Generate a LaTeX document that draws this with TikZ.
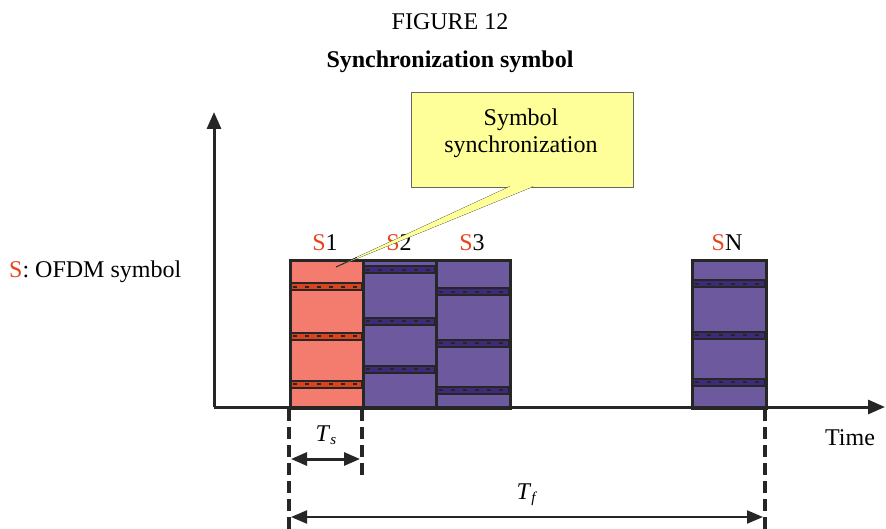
\documentclass[tikz,border=0pt]{standalone}
\usepackage{fontspec}
\setmainfont{Liberation Serif}
\usetikzlibrary{arrows.meta,calc}
\definecolor{salmon}{HTML}{F47C6E}
\definecolor{purp}{HTML}{6D5A9E}
\definecolor{dpurp}{HTML}{3E2A78}
\definecolor{dorange}{HTML}{D9431E}
\definecolor{sred}{HTML}{E8441C}
\definecolor{ink}{HTML}{262626}
\definecolor{callout}{HTML}{FFFF99}
\newcommand{\mystripe}[4]{%
  \fill[ink] (#1,#3-4.5) rectangle (#2,#3+4.5);
  \fill[#4] (#1+1.5,#3-2.5) rectangle (#2-1.5,#3+2.5);
  \draw[ink,line width=1.2pt,dash pattern=on 4pt off 8pt] (#1+4,#3) -- (#2-2,#3);
}
\tikzset{
  lbl/.style={font=\fontsize{24}{28}\selectfont, inner sep=0pt},
  symbox/.style={draw=ink, line width=3pt},
  axis/.style={draw=ink, line width=3pt, -{Triangle[length=17pt,width=14pt]}},
  dline/.style={draw=ink, line width=4pt, dash pattern=on 12pt off 6pt},
  dim/.style={draw=ink, {Triangle[length=16pt,width=13pt]}-{Triangle[length=16pt,width=13pt]}}
}
\begin{document}
\begin{tikzpicture}[x=1pt,y=-1pt]
\useasboundingbox (0,0) rectangle (886,529);
% titles
\node[lbl, anchor=base] (fig) at (450,30) {FIGURE 12};
\node[lbl, anchor=base, font=\fontsize{24}{28}\selectfont\bfseries] (title) at (450,68) {Synchronization symbol};
% symbol boxes
\fill[salmon] (289,259) rectangle (362,407);
\fill[purp] (362,259) rectangle (435,407);
\fill[purp] (435,259) rectangle (509,407);
\fill[purp] (691,259) rectangle (765,407);
\mystripe{289}{362}{287}{dorange}
\mystripe{289}{362}{336}{dorange}
\mystripe{289}{362}{384}{dorange}
\mystripe{362}{435}{270}{dpurp}
\mystripe{362}{435}{321}{dpurp}
\mystripe{362}{435}{369}{dpurp}
\mystripe{435}{509}{292}{dpurp}
\mystripe{435}{509}{343}{dpurp}
\mystripe{435}{509}{390}{dpurp}
\mystripe{691}{765}{284}{dpurp}
\mystripe{691}{765}{335}{dpurp}
\mystripe{691}{765}{382}{dpurp}
\node[symbox, minimum width=73pt, minimum height=148pt, anchor=north west, inner sep=0pt] (s1) at (289,259) {};
\node[symbox, minimum width=73pt, minimum height=148pt, anchor=north west, inner sep=0pt] (s2) at (362,259) {};
\node[symbox, minimum width=74pt, minimum height=148pt, anchor=north west, inner sep=0pt] (s3) at (435,259) {};
\node[symbox, minimum width=74pt, minimum height=148pt, anchor=north west, inner sep=0pt] (sn) at (691,259) {};
% labels above
\node[lbl, anchor=base] (l1) at (325,251) {\textcolor{sred}{S}1};
\node[lbl, anchor=base] (l2) at (399,251) {\textcolor{sred}{S}2};
\node[lbl, anchor=base] (l3) at (472,251) {\textcolor{sred}{S}3};
\node[lbl, anchor=base] (ln) at (727,251) {\textcolor{sred}{S}N};
\node[lbl, anchor=base west] (legend) at (9,278) {\textcolor{sred}{S}: OFDM symbol};
% callout
\node[draw=gray!80!black, line width=0.6pt, fill=callout, minimum width=222pt, minimum height=95pt, anchor=north west, inner sep=0pt] (call) at (411,92) {};
\node[lbl, align=center, font=\fontsize{24}{27}\selectfont] (calltxt) at (521,133) {Symbol\\synchronization};
\coordinate (tip) at (336,267);
\coordinate (pa) at (510,186.5);
\coordinate (pb) at (533,186.5);
\filldraw[fill=callout, draw=ink, line width=0.6pt] (pa) -- (tip) -- (pb);
\fill[callout] (pa) -- (tip) -- (pb) -- cycle;
\draw[ink, line width=0.8pt] (tip) -- ($(tip)!0.12!(pa)$);
% axes
\coordinate (o) at (214,407);
\coordinate (ytop) at (214,112);
\coordinate (xend) at (885,407);
\draw[axis] (o) -- (ytop);
\draw[axis] (o) -- (xend);
\node[lbl, anchor=base] (time) at (850,445) {Time};
% dashed markers
\coordinate (d1a) at (289,409); \coordinate (d1b) at (289,529);
\coordinate (d2a) at (362,409); \coordinate (d2b) at (362,476);
\coordinate (d3a) at (765,409); \coordinate (d3b) at (765,529);
\draw[dline] (d1a) -- (d1b);
\draw[dline] (d2a) -- (d2b);
\draw[dline] (d3a) -- (d3b);
\coordinate (ts1) at (291,459); \coordinate (ts2) at (360,459);
\draw[dim, line width=3pt] (ts1) -- (ts2);
\node[lbl, anchor=base] (tsl) at (326,441) {\textit{T}\raisebox{-0.35ex}{\fontsize{15}{17}\selectfont\textit{s}}};
\coordinate (tf1) at (291,517); \coordinate (tf2) at (763,517);
\draw[dim, line width=2.2pt] (tf1) -- (tf2);
\node[lbl, anchor=base] (tfl) at (527,499) {\textit{T}\raisebox{-0.35ex}{\fontsize{15}{17}\selectfont\textit{f}}};
\end{tikzpicture}
\end{document}
